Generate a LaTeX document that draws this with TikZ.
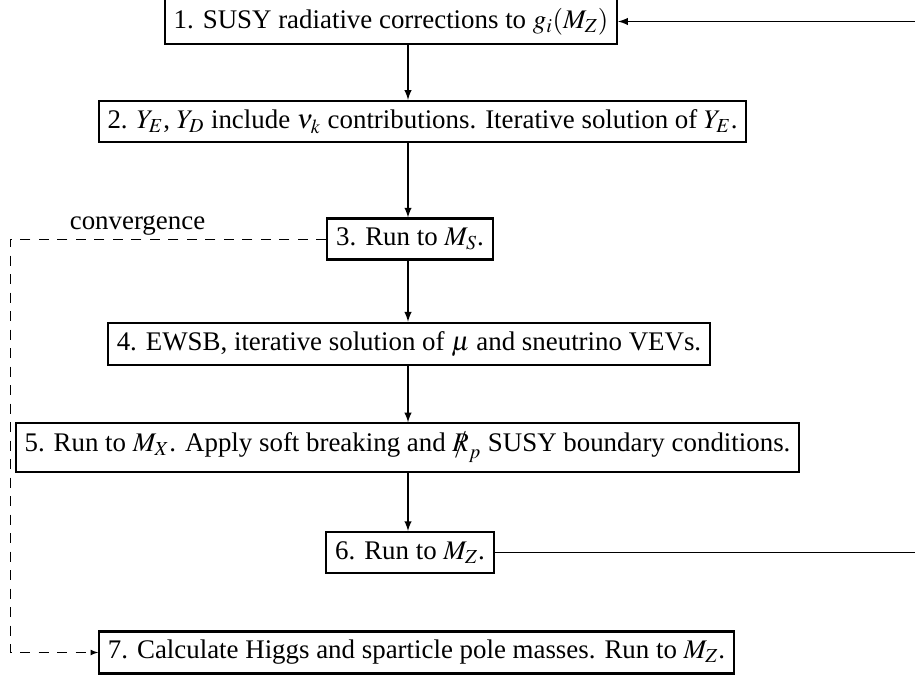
\documentclass[tikz,border=0pt]{standalone}
\usepackage{mathptmx}
\usepackage{fontspec}
\setmainfont{Liberation Serif}
\usetikzlibrary{arrows}

\newcommand{\rslash}{\hbox{\ooalign{$R$\cr\hidewidth$/$\hidewidth\cr}}}

\begin{document}
\begin{tikzpicture}[auto,
	stepbox/.style={draw, line width=1.2pt, inner sep=5pt, minimum height=0.82cm, font=\fontsize{15.3}{18}\selectfont},
	flow/.style={-latex, line width=0.9pt},
	conv/.style={line width=0.5pt, dash pattern=on 0.2cm off 0.17cm}]

	\useasboundingbox (0,0) rectangle (18.3,-13.72);

	\node (b1) [stepbox] at (7.82, -0.43) {1. SUSY radiative corrections to $g_i(M_Z)$};
	\node (b2) [stepbox] at (8.45, -2.43) {2. $Y_E$, $Y_D$ include $\nu_k$ contributions. Iterative solution of $Y_E$.};
	\node (b3) [stepbox] at (8.20, -4.78) {3. Run to $M_S$.};
	\node (b4) [stepbox] at (8.18, -6.88) {4. EWSB, iterative solution of $\mu$ and sneutrino VEVs.};
	\node (b5) [stepbox] at (8.15, -8.95) {5. Run to $M_X$. Apply soft breaking and $\rslash_p$ SUSY boundary conditions.};
	\node (b6) [stepbox] at (8.20, -11.05) {6. Run to $M_Z$.};
	\node (b7) [stepbox] at (8.33, -13.05) {7. Calculate Higgs and sparticle pole masses. Run to $M_Z$.};

	\node (lbl) [font=\fontsize{15.3}{18}\selectfont] at (2.75, -4.52) {convergence};

	\coordinate (spine) at (8.16, 0);
	\coordinate (back) at (18.6, 0);
	\coordinate (conv) at (0.2, 0);

	\path
	(b1.south -| spine) edge[flow] (b2.north -| spine)
	(b2.south -| spine) edge[flow] (b3.north -| spine)
	(b3.south -| spine) edge[flow] (b4.north -| spine)
	(b4.south -| spine) edge[flow] (b5.north -| spine)
	(b5.south -| spine) edge[flow] (b6.north -| spine);

	\draw[flow] (b6.east) -- (b6.east -| back) -- (b1.east -| back) -- (b1.east);

	\draw[conv, -latex] (b3.west) -- (b3.west -| conv) -- (b7.west -| conv) -- (b7.west);

\end{tikzpicture}
\end{document}
